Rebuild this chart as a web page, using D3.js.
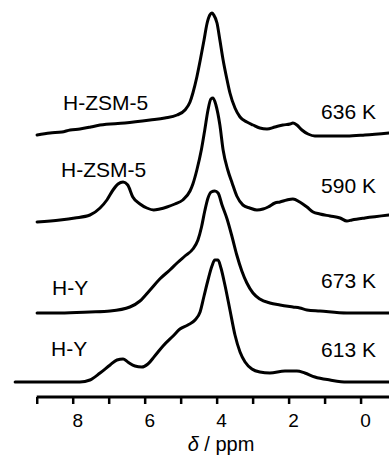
<!DOCTYPE html>
<html>
<head>
<meta charset="utf-8">
<script src="https://cdnjs.cloudflare.com/ajax/libs/d3/7.8.5/d3.min.js"></script>
<style>
  body { margin: 0; background: #fff; }
  svg { display: block; font-family: "Liberation Sans", Arial, sans-serif; }
</style>
</head>
<body>
<div id="chart"></div>
<script>
// sample names and temperatures, top to bottom
let samples = ['H-ZSM-5', 'H-ZSM-5', 'H-Y', 'H-Y'];
let temps = ['636 K', '590 K', '673 K', '613 K'];
// vertical offset of each trace (a.u.)
let offsets = [262, 175, 84, 15];

// [ppm, intensity]
let spec636 = [[8.99,0],[8.63,2],[8.3,3],[8.07,5],[7.8,6],[7.5,8],[7.24,10],[6.55,12],[5.85,15],[5.44,17],[5.1,20],[4.88,25],
  [4.74,33],[4.66,42],[4.55,58],[4.46,74],[4.35,95],[4.27,111],[4.19,120],[4.13,122],[4.08,120],[3.99,112],[3.91,95],
  [3.82,75],[3.71,55],[3.63,42],[3.49,27],[3.35,18],[3.16,13],[2.99,10],[2.8,7],[2.6,6],[2.38,8],[2.16,10],[1.96,11],
  [1.88,12],[1.77,10],[1.63,5],[1.46,1],[1.27,-1],[0.85,-1],[0.38,-1],[-0.12,0],[-0.79,2]];

let spec590 = [[8.99,0],[8.35,2],[7.94,4],[7.52,7],[7.24,14],[7.05,22],[6.88,32],[6.74,38],[6.6,40],[6.47,37],[6.33,25],
  [6.13,18],[5.94,14],[5.75,12],[5.58,13],[5.38,15],[5.16,18],[4.94,22],[4.74,31],[4.66,38],[4.55,52],[4.42,73],
  [4.33,92],[4.24,112],[4.16,123],[4.1,124],[4.02,117],[3.91,97],[3.82,72],[3.69,52],[3.57,39],[3.44,26],[3.27,17],
  [3.08,14],[2.88,12],[2.71,13],[2.57,15],[2.38,19],[2.24,20],[2.05,22],[1.88,23],[1.69,20],[1.49,15],[1.32,10],
  [1.13,8],[0.85,6],[0.57,4],[0.38,1],[0.24,2],[-0.12,4],[-0.79,7]];

let spec673 = [[8.99,0],[8.35,0],[7.52,1],[6.96,2],[6.41,6],[6.13,12],[5.85,23],[5.58,34],[5.3,43],[5.1,50],[4.88,57],
  [4.66,64],[4.52,73],[4.42,86],[4.33,102],[4.24,115],[4.15,121],[4.05,122],[3.96,120],[3.85,108],[3.71,94],
  [3.57,76],[3.44,58],[3.3,42],[3.16,30],[2.99,20],[2.8,14],[2.52,10],[2.24,8],[1.88,6],[1.69,5],[1.49,3],
  [1.13,2],[0.38,0],[-0.79,0]];

let spec613 = [[9.6,0],[8.63,0],[7.8,0],[7.52,2],[7.24,9],[6.96,17],[6.77,22],[6.6,23],[6.47,20],[6.27,16],[6.08,15],
  [5.91,18],[5.72,26],[5.49,36],[5.21,46],[5.02,53],[4.8,57],[4.6,62],[4.46,70],[4.35,86],[4.24,102],[4.13,116],
  [4.05,122],[3.96,122],[3.88,114],[3.77,97],[3.63,72],[3.49,47],[3.35,30],[3.21,20],[3.02,13],[2.8,10],[2.52,9],
  [2.1,11],[1.77,11],[1.55,9],[1.27,5],[0.85,2],[0.38,0],[-0.79,0]];

let spectra = [spec636, spec590, spec673, spec613];

// axis ticks
let tickValues = [9, 8, 7, 6, 5, 4, 3, 2, 1, 0];

let svgWidth = 389;
let svgHeight = 458;
let axisY = 397;

let svg = d3.select('#chart')
  .append('svg')
  .attr('width', svgWidth)
  .attr('height', svgHeight);

// ppm axis runs right to left
let xScale = d3.scaleLinear()
  .domain([9.02, -0.79])
  .range([36, 389]);

let yScale = d3.scaleLinear()
  .domain([0, 400])
  .range([axisY, axisY - 400]);

let line = d3.line()
  .x(d => xScale(d[0]))
  .y(d => yScale(d[1]))
  .curve(d3.curveMonotoneX);

// traces
spectra.forEach(function(spec, i) {
  svg.append('path')
    .datum(spec.map(d => [d[0], d[1] + offsets[i]]))
    .attr('d', line)
    .attr('fill', 'none')
    .attr('stroke', '#000')
    .attr('stroke-width', 3)
    .attr('stroke-linejoin', 'round')
    .attr('stroke-linecap', 'round');
});

// labels
let leftX = [63, 61, 52, 51];
let leftY = [110, 177, 295, 356];
let rightY = [119, 193, 288, 357];

samples.forEach(function(s, i) {
  svg.append('text')
    .attr('x', leftX[i])
    .attr('y', leftY[i])
    .attr('font-size', '21px')
    .attr('fill', '#000')
    .text(s);
  svg.append('text')
    .attr('x', 376)
    .attr('y', rightY[i])
    .attr('text-anchor', 'end')
    .attr('font-size', '21px')
    .attr('fill', '#000')
    .text(temps[i]);
});

// bottom axis
let bottomAxis = d3.axisBottom(xScale)
  .tickValues(tickValues)
  .tickSize(7)
  .tickSizeOuter(0)
  .tickFormat(d => d % 2 === 0 ? d : '');

let xAxis = svg.append('g')
  .attr('transform', `translate(0, ${axisY})`)
  .call(bottomAxis);

xAxis.select('.domain')
  .attr('stroke-width', 3)
  .attr('d', `M${xScale(9)},0H${svgWidth}`);

xAxis.selectAll('.tick line')
  .attr('stroke-width', 2.5);

xAxis.selectAll('.tick text')
  .attr('font-family', '"Liberation Sans", Arial, sans-serif')
  .attr('font-size', '19px')
  .attr('fill', '#000')
  .attr('x', 4.5)
  .attr('y', 30)
  .attr('dy', 0);

// axis title
let title = svg.append('text')
  .attr('x', 221)
  .attr('y', 451)
  .attr('text-anchor', 'middle')
  .attr('font-size', '20px')
  .attr('fill', '#000');

title.append('tspan')
  .attr('font-style', 'italic')
  .text('δ');

title.append('tspan')
  .text(' / ppm');
</script>
</body>
</html>
